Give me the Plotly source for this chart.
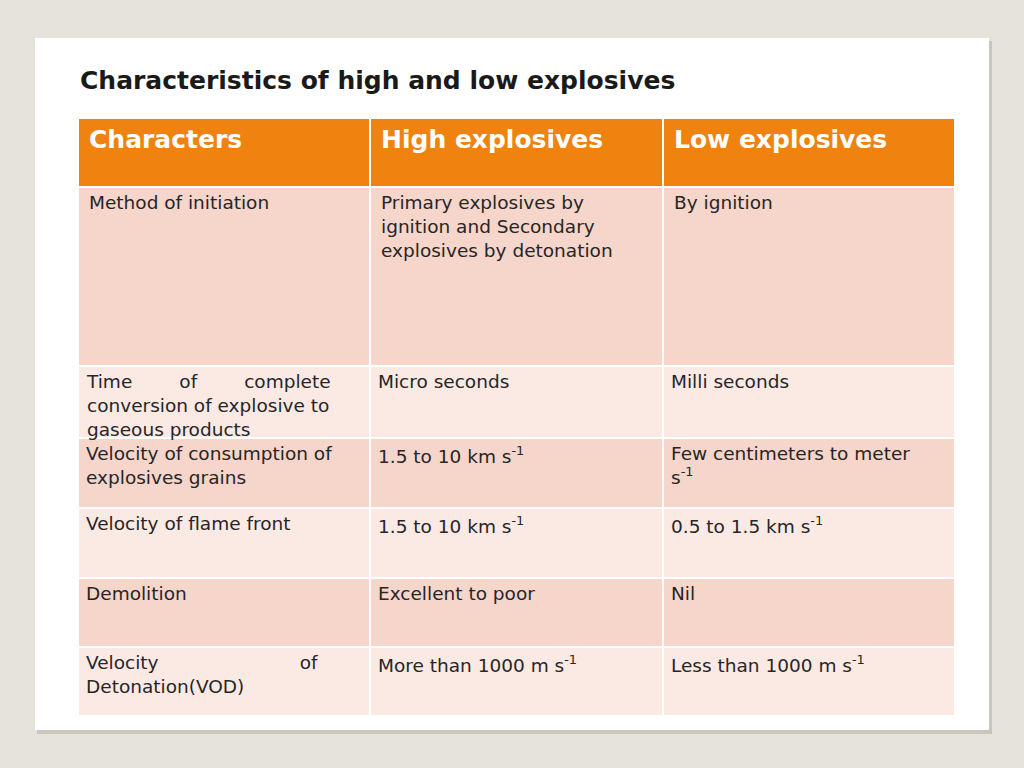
import plotly.graph_objects as go

title = "Characteristics of high and low explosives"
headers = ["Characters", "High explosives", "Low explosives"]
rows = [
    ["Method of initiation",
     "Primary explosives by<br>ignition and Secondary<br>explosives by detonation",
     "By ignition"],
    ["Time        of        complete<br>conversion of explosive to<br>gaseous products",
     "Micro seconds", "Milli seconds"],
    ["Velocity of consumption of<br>explosives grains",
     "1.5 to 10 km s<sup>-1</sup>", "Few centimeters to meter<br>s<sup>-1</sup>"],
    ["Velocity of flame front", "1.5 to 10 km s<sup>-1</sup>", "0.5 to 1.5 km s<sup>-1</sup>"],
    ["Demolition", "Excellent to poor", "Nil"],
    ["Velocity                        of<br>Detonation(VOD)",
     "More than 1000 m s<sup>-1</sup>", "Less than 1000 m s<sup>-1</sup>"],
]
col_edges = [78, 370, 663, 955]
row_edges = [118, 187, 366, 438, 508, 578, 647, 716]
row_colors = ["#f6d5ca", "#fbe9e4", "#f6d5ca", "#fbe9e4", "#f6d5ca", "#fbe9e4"]

fig = go.Figure()
shapes = []
ann = []
# card shadow and card
shapes.append(dict(type="rect", x0=37, x1=992, y0=41, y1=734, line_width=0, fillcolor="#c9c6bd", layer="below"))
shapes.append(dict(type="rect", x0=35, x1=989, y0=38, y1=730, line_width=0, fillcolor="white", layer="below"))

for r in range(len(row_edges) - 1):
    fill = "#f0820f" if r == 0 else row_colors[r - 1]
    for c in range(3):
        shapes.append(dict(type="rect", x0=col_edges[c], x1=col_edges[c + 1],
                           y0=row_edges[r], y1=row_edges[r + 1],
                           line=dict(color="white", width=2), fillcolor=fill))
        if r == 0:
            ann.append(dict(x=col_edges[c] + 9, y=row_edges[r] + 5, text="<b>%s</b>" % headers[c],
                            font=dict(size=25, color="white", family="DejaVu Sans")))
        else:
            ann.append(dict(x=col_edges[c] + 6 + (3 if r == 1 else 0), y=row_edges[r] + 3,
                            text=rows[r - 1][c],
                            font=dict(size=18.5, color="#262626", family="DejaVu Sans")))

ann.append(dict(x=78, y=64, text="<b>%s</b>" % title,
                font=dict(size=25, color="#1a1a1a", family="DejaVu Sans")))
for a in ann:
    a.update(xref="x", yref="y", xanchor="left", yanchor="top", showarrow=False, align="left")

fig.update_layout(width=1024, height=768, margin=dict(l=0, r=0, t=0, b=0),
                  paper_bgcolor="#e6e3da", plot_bgcolor="#e6e3da",
                  shapes=shapes, annotations=ann,
                  xaxis=dict(range=[0, 1024], visible=False, fixedrange=True),
                  yaxis=dict(range=[768, 0], visible=False, fixedrange=True))
fig.write_html("out.html", config={"displayModeBar": False},
               post_script="document.body.style.margin='0';document.body.style.overflow='hidden';")
